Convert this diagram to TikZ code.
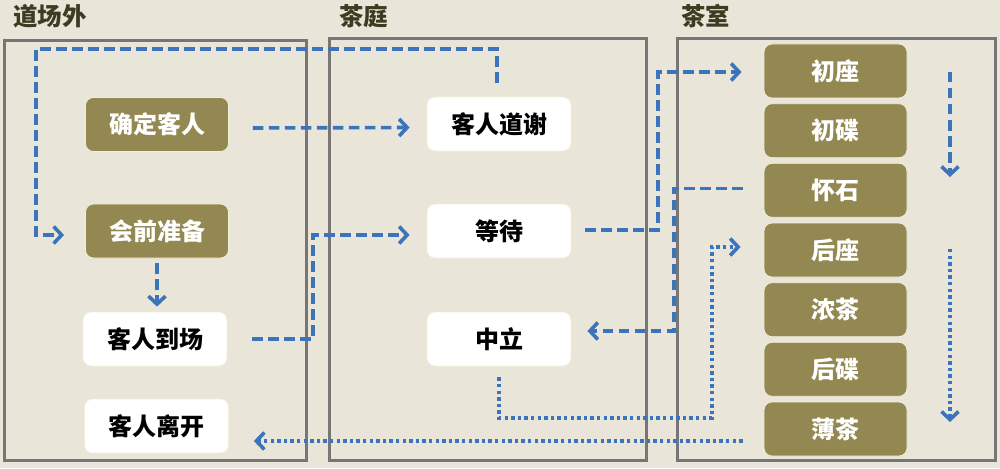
\documentclass[tikz,border=0pt]{standalone}
\usepackage{fontspec}
\setmainfont{Noto Sans CJK SC}
\newfontfamily\cjkb{Noto Sans CJK SC}[BoldFont={* Black}]
\usetikzlibrary{arrows.meta}
\definecolor{bgc}{HTML}{E9E5D8}
\definecolor{olive}{HTML}{938852}
\definecolor{olivebd}{HTML}{F3EEDB}
\definecolor{flowblue}{HTML}{3B74BA}
\definecolor{panelgray}{HTML}{767676}
\definecolor{titlec}{HTML}{3F3A22}
\tikzset{
  panel/.style={draw=panelgray, line width=3pt},
  paneltitle/.style={anchor=west, text=titlec, font=\cjkb\bfseries\fontsize{24.5}{28}\selectfont, inner sep=0pt},
  olivebox/.style={rounded corners=8pt, fill=olive, draw=olivebd, line width=0.8pt, minimum width=143pt, minimum height=54pt, text=white, font=\cjkb\bfseries\fontsize{24}{28}\selectfont, inner sep=0pt},
  whitebox/.style={rounded corners=8pt, fill=white, draw=olivebd, line width=0.8pt, minimum width=144pt, minimum height=54pt, text=black, font=\cjkb\bfseries\fontsize{24}{28}\selectfont, inner sep=0pt},
  flow/.style={draw=flowblue, line width=3.6pt, -{Straight Barb[length=8pt,width=17pt,line width=3.6pt]}},
  dashflow/.style={flow, dash pattern=on 10.5pt off 5.5pt},
  dotflow/.style={flow, dash pattern=on 3.4pt off 3.2pt},
}
\begin{document}
\begin{tikzpicture}[x=1pt,y=-1pt]
\fill[bgc] (0,0) rectangle (1000,468);
\useasboundingbox (0,0) rectangle (1000,468);
% panels
\draw[panel] (4,41) rectangle (306,460);
\draw[panel] (329,39) rectangle (646,460);
\draw[panel] (677,39) rectangle (995,460);
\node[paneltitle] (t1) at (13,16) {道场外};
\node[paneltitle] (t2) at (339,16) {茶庭};
\node[paneltitle] (t3) at (681,16) {茶室};
% left panel
\node[olivebox] (qd) at (157,124.5) {确定客人};
\node[olivebox] (hq) at (157,231) {会前准备};
\node[whitebox] (dc) at (155,339) {客人到场};
\node[whitebox] (lk) at (156.5,426) {客人离开};
% middle panel
\node[whitebox] (dx) at (499,124) {客人道谢};
\node[whitebox] (dd) at (499,231) {等待};
\node[whitebox] (zl) at (499,339) {中立};
% right panel
\foreach \n/\t/\yy in {cz/初座/71, cd/初碟/130.7, hs/怀石/190.3, hz/后座/250, nc/浓茶/309.7, hd/后碟/369.3, bc/薄茶/429}{
  \node[olivebox] (\n) at (835.5,\yy) {\t};
}
% waypoints
\coordinate (w1) at (36,49);
\coordinate (w2) at (313,235);
\coordinate (w3) at (658,72);
\coordinate (w4) at (674,331);
\coordinate (w5) at (712,418);
\coordinate (w6) at (712,247);
\coordinate (r1s) at (950,72);
\coordinate (r1e) at (950,177);
\coordinate (r2s) at (950,249);
\coordinate (r2e) at (950,422);
% connectors
\draw[dashflow] ([xshift=24pt,yshift=-3.5pt]qd.east) -- ([xshift=-17pt,yshift=-3.5pt]dx.west);
\draw[dashflow] ([xshift=-2pt,yshift=14pt]dx.north) |- (w1) |- ([xshift=-21pt,yshift=-4pt]hq.west);
\draw[dashflow] ([yshift=-5pt]hq.south) -- ([yshift=5pt]dc.north -| hq.south);
\draw[dashflow] ([xshift=25pt]dc.east) -| (w2) -- ([xshift=-17pt,yshift=-4pt]dd.west);
\draw[dashflow] ([xshift=14pt,yshift=1pt]dd.east) -| (w3) -- ([xshift=-22pt,yshift=-1pt]cz.west);
\draw[dashflow] ([xshift=-21pt,yshift=2pt]hs.west) -| (w4) -- ([xshift=16pt,yshift=8pt]zl.east);
\draw[dotflow] ([yshift=-11pt]zl.south) |- (w5) |- ([xshift=-23pt,yshift=3pt]hz.west);
\draw[dotflow] ([xshift=-21pt,yshift=-12pt]bc.west) -- ([xshift=25pt,yshift=-15pt]lk.east);
\draw[dashflow] (r1s) -- (r1e);
\draw[dotflow] (r2s) -- (r2e);
\end{tikzpicture}
\end{document}
